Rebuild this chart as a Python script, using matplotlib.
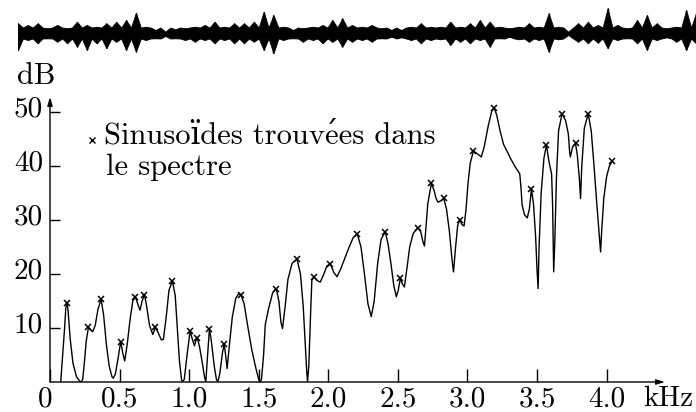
import numpy as np
import matplotlib
matplotlib.use("Agg")
import matplotlib.pyplot as plt
import matplotlib.transforms as mtransforms

plt.rcParams['font.family'] = ['cmr10', 'DejaVu Serif']
plt.rcParams['axes.unicode_minus'] = False

# spectre (kHz, dB)
freq = [0.077, 0.105, 0.113, 0.12, 0.128, 0.145, 0.165, 0.19, 0.215, 0.225, 0.235,
        0.245, 0.26, 0.276, 0.29, 0.307, 0.325, 0.345, 0.367, 0.385, 0.405, 0.425,
        0.445, 0.455, 0.47, 0.49, 0.508, 0.522, 0.537, 0.555, 0.575, 0.595, 0.614,
        0.63, 0.647, 0.662, 0.679, 0.695, 0.715, 0.739, 0.758, 0.78, 0.8, 0.815,
        0.835, 0.855, 0.88, 0.9, 0.915, 0.93, 0.945, 0.952, 0.965, 0.985, 1.007,
        1.022, 1.038, 1.05, 1.06, 1.075, 1.095, 1.11, 1.12, 1.13, 1.146, 1.16, 1.18,
        1.196, 1.206, 1.22, 1.24, 1.252, 1.262, 1.273, 1.29, 1.31, 1.335, 1.355,
        1.372, 1.395, 1.42, 1.45, 1.48, 1.5, 1.51, 1.52, 1.535, 1.547, 1.57, 1.6,
        1.626, 1.645, 1.66, 1.671, 1.69, 1.71, 1.74, 1.775, 1.8, 1.82, 1.835, 1.845,
        1.851, 1.86, 1.872, 1.882, 1.899, 1.92, 1.942, 1.965, 1.99, 2.014, 2.04,
        2.063, 2.09, 2.12, 2.15, 2.18, 2.209, 2.235, 2.26, 2.285, 2.309, 2.33, 2.355,
        2.38, 2.41, 2.43, 2.45, 2.47, 2.489, 2.503, 2.518, 2.532, 2.547, 2.565,
        2.585, 2.61, 2.643, 2.665, 2.68, 2.691, 2.7, 2.715, 2.741, 2.76, 2.775,
        2.789, 2.81, 2.83, 2.85, 2.87, 2.89, 2.9, 2.915, 2.93, 2.945, 2.96, 2.976,
        2.99, 3.005, 3.02, 3.043, 3.07, 3.1, 3.12, 3.15, 3.175, 3.192, 3.21, 3.235,
        3.26, 3.29, 3.31, 3.345, 3.376, 3.385, 3.393, 3.41, 3.43, 3.445, 3.46,
        3.475, 3.49, 3.5, 3.508, 3.515, 3.53, 3.55, 3.568, 3.585, 3.605, 3.612,
        3.617, 3.62, 3.628, 3.64, 3.655, 3.68, 3.705, 3.725, 3.735, 3.74, 3.755,
        3.777, 3.79, 3.805, 3.813, 3.822, 3.84, 3.868, 3.89, 3.91, 3.93, 3.95,
        3.957, 3.965, 3.98, 4.0, 4.02, 4.041]
level = [0, 10, 13.5, 14.8, 13.8, 8, 3.5, 1, 0.1, 0, 0.5,
         3, 7.5, 10.1, 9.7, 9.3, 10.5, 13.5, 15.3, 12.5, 7, 3,
         1, 0.7, 1.5, 4.5, 7.5, 5.5, 3.9, 7, 11.5, 15, 15.8,
         14.5, 13.3, 15, 16.2, 14, 10.5, 8.8, 10.1, 9, 7.8, 7.9,
         12, 17, 18.7, 16, 10, 4, 0.5, 0, 0.5, 5, 9.5,
         8, 6.7, 7.8, 8.1, 6.5, 3.5, 1, 0, 4, 9.9, 7.5, 3,
         0.5, 0, 1.5, 5.5, 7.0, 5, 2.5, 7, 12, 15.5, 16.3,
         16.2, 14.5, 10.5, 6, 2.5, 0.5, 0, 0.5, 5, 10.6, 13.5, 16.5,
         17.3, 15, 11, 9.9, 14, 19, 22, 22.8, 20, 14, 7, 2,
         0, 3, 12, 18.9, 19.4, 18.8, 18.5, 19.8, 21.5, 21.9, 20.3,
         19.5, 21, 23, 25, 26.8, 27.4, 25, 20, 14.5, 12.1, 15, 22,
         26.5, 27.8, 25.5, 22, 18, 15.8, 17, 19.2, 18.2, 17.6, 21,
         25, 27.5, 28.6, 27.8, 26, 25.2, 28, 33, 36.8, 35.5, 34,
         33.3, 33.6, 34.0, 32, 28, 22.5, 20.4, 25, 29, 30.1, 29.2, 28.9,
         32, 37, 40.5, 42.8, 42.3, 41.7, 43.5, 47.5, 50.2, 50.8, 49.5, 46.5,
         44, 42.5, 41.4, 39.8, 38.6, 36, 32.8, 31, 30.4, 32, 35.7,
         33, 27, 21, 17.3, 25, 35, 41.5, 43.9, 41, 38.5, 33,
         25, 20.4, 26, 38, 46.5, 49.7, 48.5, 46, 42.5, 41.7, 43.5,
         44.2, 42, 37.5, 34.0, 40, 47, 49.7, 46.5, 40, 33, 26.5,
         24.1, 28, 34, 38, 40, 40.9]

# sinusoides detectees (croix)
peak_freq = [0.12, 0.276, 0.367, 0.508, 0.614, 0.679, 0.758, 0.88, 1.007, 1.06,
             1.146, 1.252, 1.372, 1.626, 1.775, 1.899, 2.014, 2.209, 2.41, 2.518,
             2.643, 2.741, 2.83, 2.945, 3.043, 3.192, 3.46, 3.568, 3.68, 3.777,
             3.868, 4.041]
peak_level = [14.7, 10.1, 15.3, 7.5, 15.8, 16.2, 10.1, 18.7, 9.5, 8.1,
              9.9, 7.0, 16.2, 17.3, 22.8, 19.4, 21.9, 27.4, 27.8, 19.2,
              28.6, 36.8, 34.0, 30.1, 42.8, 50.8, 35.7, 43.9, 49.7, 44.2,
              49.7, 40.9]

x_ticks = [0, 0.5, 1.0, 1.5, 2.0, 2.5, 3.0, 3.5, 4.0]
x_labels = ["0", "0.5", "1.0", "1.5", "2.0", "2.5", "3.0", "3.5", "4.0"]
y_ticks = [10, 20, 30, 40, 50]
y_labels = ["10", "20", "30", "40", "50"]

# forme d'onde du haut : amplitudes crete (haut / bas) lues de gauche a droite
wave_hi = [9.7, 8, 9.7, 4.7, 8, 4.7, 11.3, 8, 6.3, 9.7, 11.3, 13, 20.3, 6.3, 3,
           1.3, 3.7, 4.7, 6.3, 8, 11.3, 6.3, 9.7, 9.7, 11.3, 21.3, 18, 6.3, 3,
           4.7, 6.3, 8, 13, 14.7, 8, 6.3, 8, 4.7, 3, 3, 6.3, 9.7, 6.3, 6.3,
           11.3, 6.3, 9.7, 13, 11.3, 6.3, 4.7, 6.3, 9.7, 6.3, 19.7, 6.3, 1.3,
           9.7, 11.3, 8, 24.7, 8, 4.7, 13, 18, 9.7, 4.7, 6.3, 23, 19.7]
wave_lo = [17, 7, 10.3, 5.3, 8.7, 10.3, 13.7, 17, 10.3, 15.3, 8.7, 17, 18.7, 7,
           5.3, 3, 5.3, 7, 8.7, 7, 10.3, 7, 10.3, 10.3, 8.7, 17, 20.3, 7, 5.3,
           8.7, 7, 10.3, 8.7, 13.7, 8.7, 7, 8.7, 5.3, 3.7, 4.3, 7, 10.3, 7, 6.3,
           12, 8.7, 10.3, 7, 13.7, 5.3, 3.7, 6.3, 8.7, 7, 18.7, 6.3, 2, 8.7,
           10.3, 9.7, 15.3, 7, 5.3, 10.3, 17, 7, 4.3, 8.7, 17, 10.3]

W, H = 696, 412
fig = plt.figure(figsize=(W / 100, H / 100), dpi=100)

# --- forme d'onde : pics relies a un coeur plein
wax = fig.add_axes([18 / W, 1 - 58 / H, 1 - 18 / W, 50 / H])
n = np.arange(len(wave_hi))
hi = np.array(wave_hi)
lo = -np.array(wave_lo)
core = 5.5
px = np.ravel(np.column_stack([n, n + 0.5]))
up = np.ravel(np.column_stack([hi, np.full_like(hi, core)]))
dn = np.ravel(np.column_stack([lo, np.full_like(lo, -core)]))
wax.fill_between(px, up, dn, color="black", lw=0.6)
wax.vlines(n, lo, hi, color="black", lw=1.0)
wax.set_xlim(0, len(wave_hi) - 1)
wax.set_ylim(-25, 25)
wax.axis("off")

# --- spectre
x0, x1 = 50, 665
y0, y1 = 382, 97
ax = fig.add_axes([x0 / W, 1 - y0 / H, (x1 - x0) / W, (y0 - y1) / H])
ax.set_xlim(0, 4.42)
ax.set_ylim(0, 52.8)
ax.plot(freq, level, color="black", lw=1.0)
ax.plot(peak_freq, peak_level, "x", color="black", ms=5, mew=1.1)

for s in ax.spines.values():
    s.set_visible(False)
for tip in [(1, 0), (0, 1)]:
    ax.annotate("", xy=tip, xytext=(0, 0), xycoords="axes fraction",
                arrowprops=dict(arrowstyle="-|>,head_length=0.5,head_width=0.15",
                                color="black", lw=1.0, shrinkA=0, shrinkB=0))

ax.set_xticks(x_ticks)
ax.set_xticklabels(x_labels)
ax.set_yticks(y_ticks)
ax.set_yticklabels(y_labels)
ax.tick_params(axis="x", direction="in", length=9.5, width=1.0, pad=3, labelsize=21)
ax.tick_params(axis="y", direction="in", length=7.5, width=1.0, pad=5, labelsize=21)

# etiquettes y un peu au-dessus des graduations, "0" decale a gauche
up_shift = mtransforms.ScaledTranslation(0, 6 / 100, fig.dpi_scale_trans)
for lab in ax.get_yticklabels():
    lab.set_transform(lab.get_transform() + up_shift)
left_shift = mtransforms.ScaledTranslation(-5 / 100, 0, fig.dpi_scale_trans)
zero_lab = ax.get_xticklabels()[0]
zero_lab.set_transform(zero_lab.get_transform() + left_shift)

fig.text(17 / W, 1 - 84 / H, "dB", fontsize=22, ha="left", va="baseline")
fig.text(643 / W, 1 - 406 / H, "kHz", fontsize=21, ha="left", va="baseline")

# legende
fig.lines.append(plt.Line2D([92 / W], [1 - 140 / H], marker="x", color="black",
                            ms=4, mew=1.0, ls="none", transform=fig.transFigure))
fig.text(104 / W, 1 - 143 / H, "Sinusoïdes trouve\u0301es dans",
         fontsize=22, ha="left", va="baseline")
fig.text(106 / W, 1 - 175 / H, "le spectre", fontsize=22, ha="left", va="baseline")

fig.savefig("out.png", dpi=100)
